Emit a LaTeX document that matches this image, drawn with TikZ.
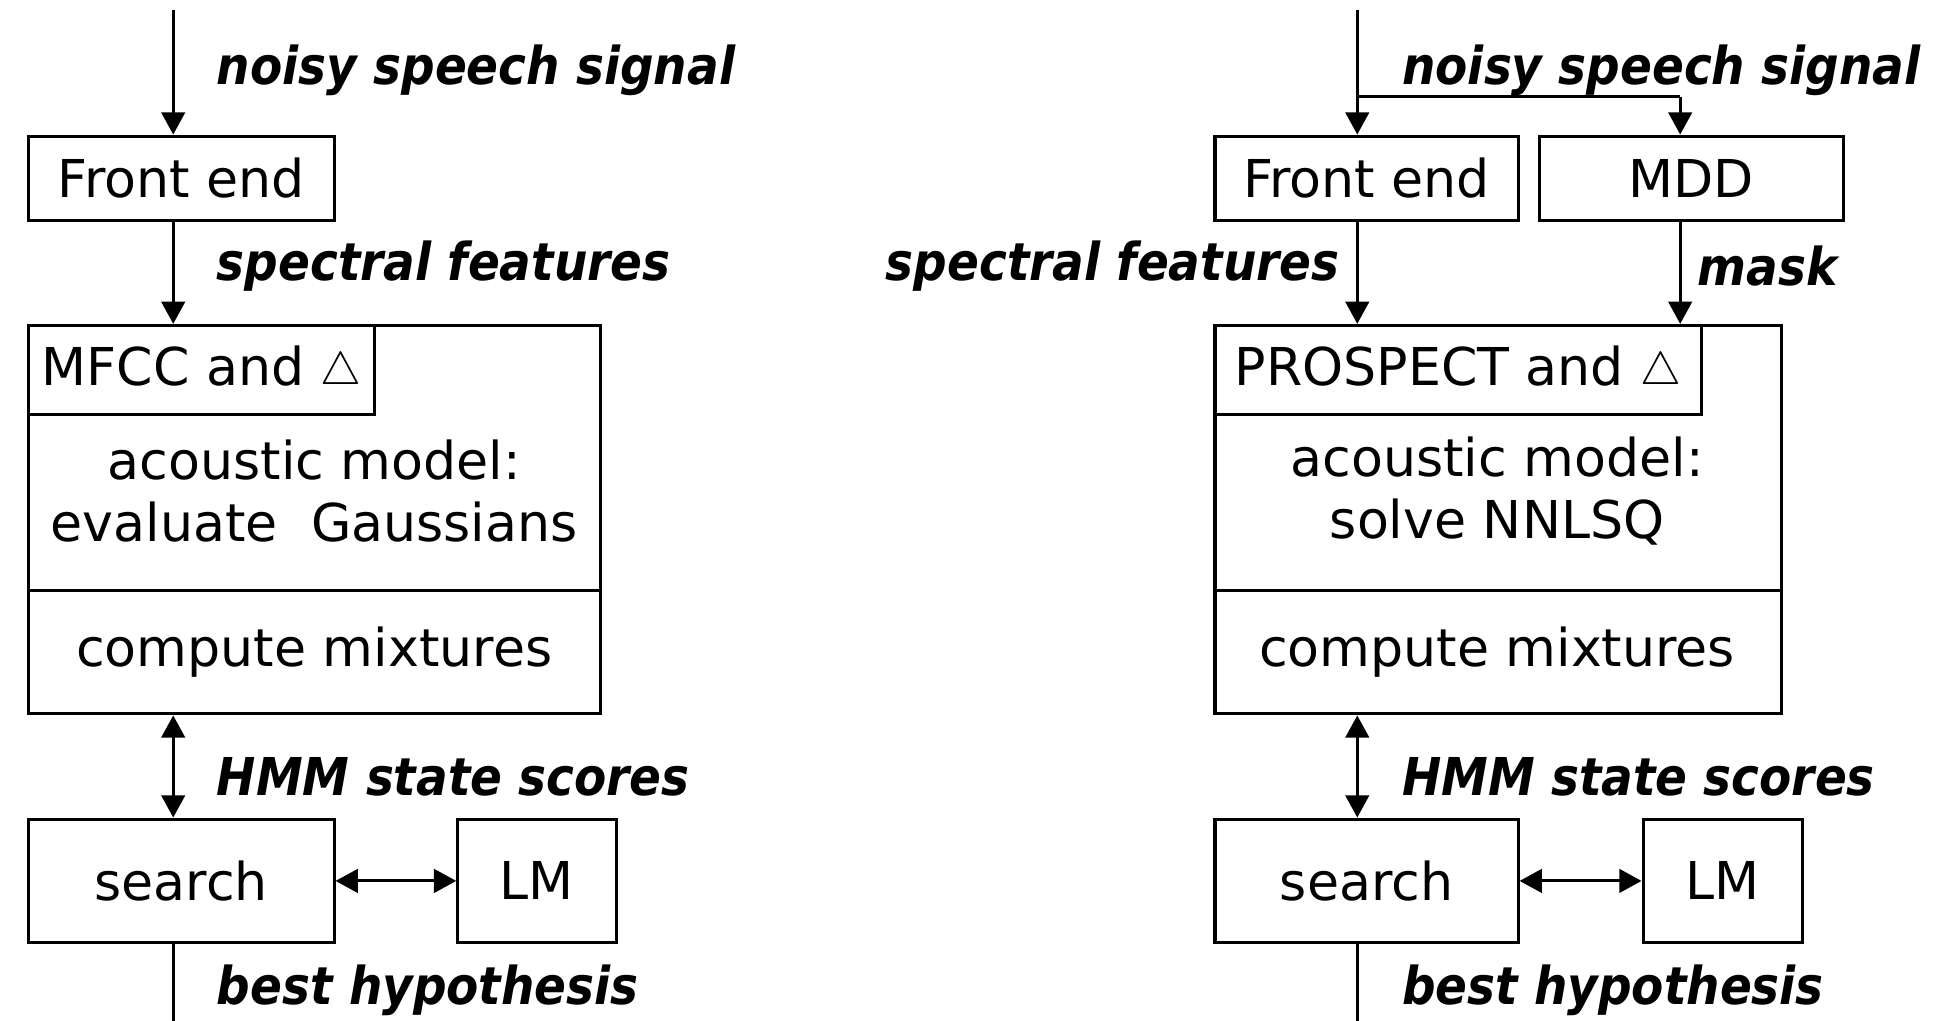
\documentclass[tikz,border=0pt]{standalone}
\usepackage{fontspec}
\setmainfont{DejaVu Sans}
\newfontfamily\lblfont{DejaVu Sans Condensed}
\usetikzlibrary{arrows.meta}
\newcommand{\smtri}{\raisebox{0.5pt}{\scalebox{0.85}{$\triangle$}}}
\begin{document}
\begin{tikzpicture}[x=0.02cm,y=-0.02cm,
  bx/.style 2 args={draw,line width=1.4pt,inner sep=0pt,minimum width=#1*0.02cm,minimum height=#2*0.02cm,font=\fontsize{24}{28.5}\selectfont},
  txt/.style={inner sep=0pt,align=center,font=\fontsize{24}{28.5}\selectfont},
  lbl/.style={inner sep=0pt,font=\lblfont\bfseries\itshape\fontsize{24}{28}\selectfont},
  ln/.style={line width=1.4pt},
  tip/.tip={Triangle[width=0.38cm,length=0.36cm]},
  arr/.style={ln,-tip},
  darr/.style={ln,tip-tip}]
\fill[white] (0,0) rectangle (1568,825);
\useasboundingbox (0,0) rectangle (1568,825);

% ---------- left column ----------
\coordinate (in1) at (140,8);
\coordinate (out1) at (140,830);
\node[bx={247}{68}] (fe1) at (146.5,144) {Front end};
\node[bx={462}{314}] (big1) at (254,420) {};
\node[bx={280}{72},anchor=north west] (mfcc1) at (big1.north west) {MFCC and \smtri};
\node[txt] (am1) at (254,397) {acoustic model:\\evaluate~ Gaussians};
\coordinate (d1) at (0,477);
\draw[ln] (big1.west |- d1) -- (big1.east |- d1);
\node[txt] (cm1) at (254,527) {compute mixtures};
\node[bx={247}{100}] (se1) at (146.5,712) {search};
\node[bx={128}{100}] (lm1) at (434,712) {LM};

\draw[arr] (in1) -- (in1 |- fe1.north);
\draw[arr] (in1 |- fe1.south) -- (in1 |- big1.north);
\draw[darr] (in1 |- big1.south) -- (in1 |- se1.north);
\draw[darr] (se1.east) -- (lm1.west);
\draw[ln] (in1 |- se1.south) -- (out1);

\node[lbl,anchor=west] (l1) at (175,57) {noisy speech signal};
\node[lbl,anchor=west] (l2) at (175,215) {spectral features};
\node[lbl,anchor=west] (l3) at (175,628) {HMM state scores};
\node[lbl,anchor=west] (l4) at (175,800) {best hypothesis};

% ---------- right column ----------
\coordinate (in2) at (1097,8);
\coordinate (j2) at (1097,78);
\coordinate (j3) at (1358,78);
\coordinate (out2) at (1097,830);
\node[bx={245}{68}] (fe2) at (1104.5,144) {Front end};
\node[bx={246}{68}] (mdd) at (1367,144) {MDD};
\node[bx={458}{314}] (big2) at (1211,420) {};
\node[bx={393}{72},anchor=north west] (pros) at (big2.north west) {PROSPECT and \smtri};
\node[txt] (am2) at (1210,397) {acoustic model:\\solve NNLSQ};
\draw[ln] (big2.west |- d1) -- (big2.east |- d1);
\node[txt] (cm2) at (1210,527) {compute mixtures};
\node[bx={245}{100}] (se2) at (1104.5,712) {search};
\node[bx={129}{100}] (lm2) at (1392.5,712) {LM};

\draw[arr] (in2) -- (j2 |- fe2.north);
\draw[ln] (j2) -- (j3);
\draw[arr] (j3) -- (j3 |- mdd.north);
\draw[arr] (j2 |- fe2.south) -- (j2 |- big2.north);
\draw[arr] (j3 |- mdd.south) -- (j3 |- big2.north);
\draw[darr] (j2 |- big2.south) -- (j2 |- se2.north);
\draw[darr] (se2.east) -- (lm2.west);
\draw[ln] (j2 |- se2.south) -- (out2);

\node[lbl,anchor=west] (r1) at (1133,57) {noisy speech signal};
\node[lbl,anchor=east] (r2) at (1083,215) {spectral features};
\node[lbl,anchor=west] (r5) at (1372,215) {mask};
\node[lbl,anchor=west] (r3) at (1133,628) {HMM state scores};
\node[lbl,anchor=west] (r4) at (1133,800) {best hypothesis};
\end{tikzpicture}
\end{document}
